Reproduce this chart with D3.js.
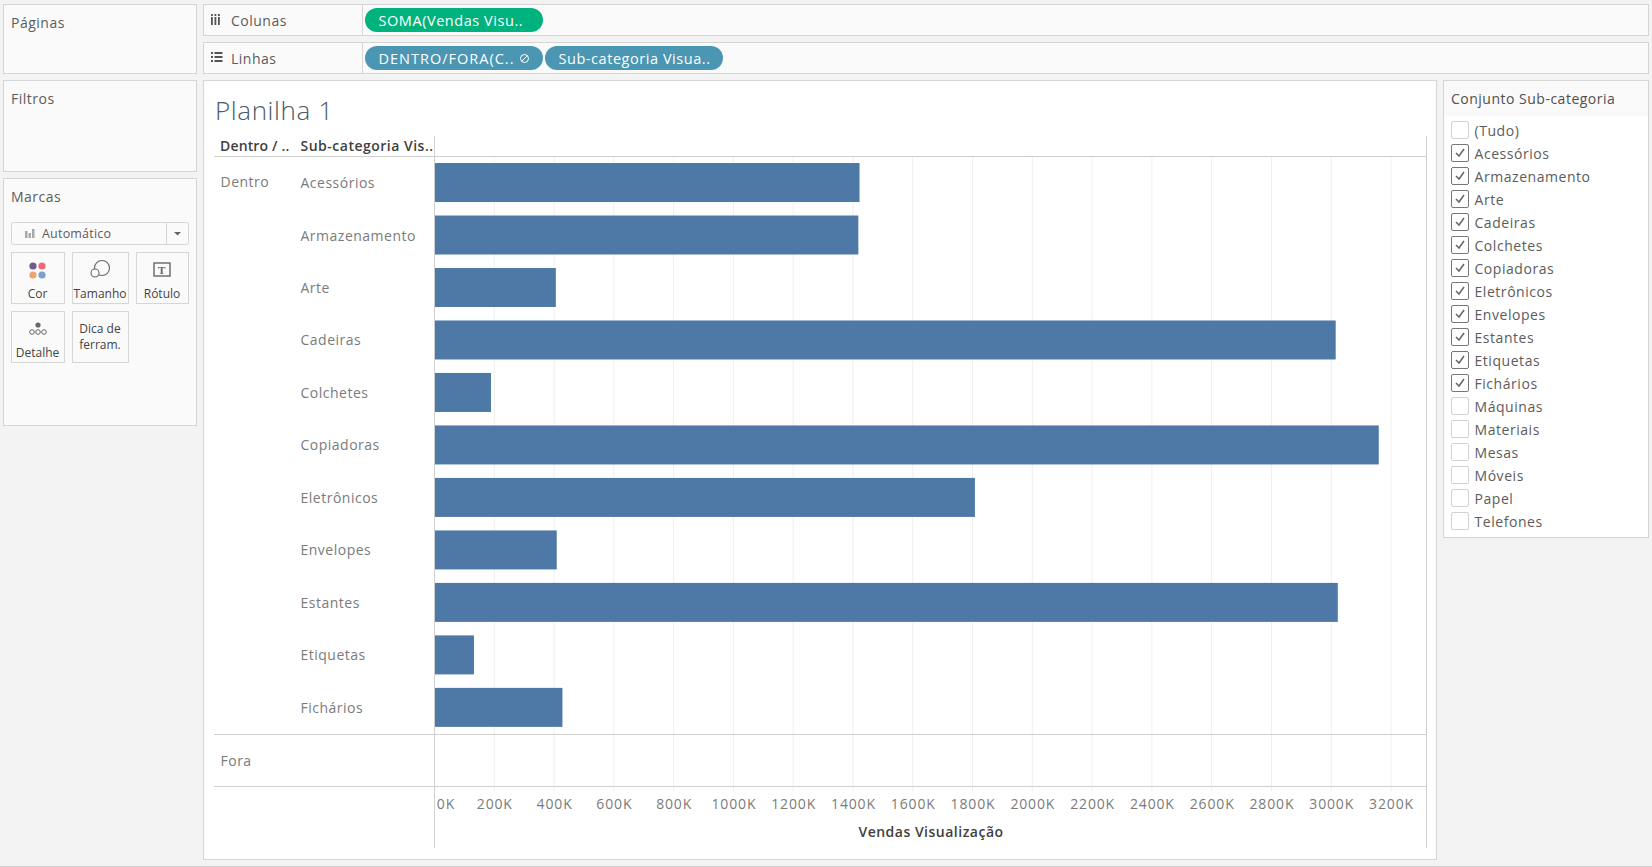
<!DOCTYPE html>
<html>
<head>
<meta charset="utf-8">
<script src="https://cdnjs.cloudflare.com/ajax/libs/d3/7.8.5/d3.min.js"></script>
<style>
html, body { margin: 0; padding: 0; background: #f3f3f3; overflow: hidden; }
svg { display: block; }
text { font-family: "Open Sans", sans-serif; letter-spacing: 0.5px; }
</style>
</head>
<body>
<script>
// chart data
var categories = ["Acessórios", "Armazenamento", "Arte", "Cadeiras", "Colchetes", "Copiadoras", "Eletrônicos", "Envelopes", "Estantes", "Etiquetas", "Fichários"];
var vendas = [1422, 1418, 406, 3015, 189, 3159, 1808, 409, 3022, 132, 428];
var xTicks = [0, 200, 400, 600, 800, 1000, 1200, 1400, 1600, 1800, 2000, 2200, 2400, 2600, 2800, 3000, 3200];
var groups = ["Dentro", "Fora"];

// filter card
var filterItems = ["(Tudo)", "Acessórios", "Armazenamento", "Arte", "Cadeiras", "Colchetes", "Copiadoras", "Eletrônicos", "Envelopes", "Estantes", "Etiquetas", "Fichários", "Máquinas", "Materiais", "Mesas", "Móveis", "Papel", "Telefones"];
var filterChecked = [0, 1, 1, 1, 1, 1, 1, 1, 1, 1, 1, 1, 0, 0, 0, 0, 0, 0];

var width = 1652, height = 867;
var textColor = "#5c5c5c", mutedColor = "#7b7b7b", lineColor = "#cfcfcf", panelLine = "#d6d6d6";

var svg = d3.select("body").append("svg")
	.attr("width", width)
	.attr("height", height);

function panel(x, y, w, h, fill) {
	return svg.append("rect")
		.attr("x", x + 0.5).attr("y", y + 0.5)
		.attr("width", w).attr("height", h)
		.attr("fill", fill || "#fafafa")
		.attr("stroke", panelLine);
}

function label(txt, x, y, size, color, weight) {
	return svg.append("text")
		.attr("x", x).attr("y", y)
		.attr("dy", "0.35em")
		.attr("font-size", size)
		.attr("font-weight", weight || 400)
		.attr("fill", color || textColor)
		.text(txt);
}

// left column
panel(3, 4, 193, 69);
label("Páginas", 11, 23, 14);
panel(3, 80, 193, 91);
label("Filtros", 11, 99, 14);
panel(3, 178, 193, 247);
label("Marcas", 11, 197, 14);

panel(11, 222, 177, 22, "#fafafa").attr("rx", 2);
svg.append("line").attr("x1", 166.5).attr("x2", 166.5).attr("y1", 222).attr("y2", 244).attr("stroke", panelLine);
svg.append("path").attr("d", "M174 232h7l-3.5 3.5z").attr("fill", "#666");
[[25, 2.5, 7], [28.5, 2.5, 5], [32, 2.5, 9]].forEach(function(b) {
	svg.append("rect").attr("x", b[0]).attr("y", 238 - b[2]).attr("width", b[1]).attr("height", b[2]).attr("fill", "#aaa");
});
label("Automático", 42, 233.5, 12.5, "#5c5c5c").style("letter-spacing", "0.2px");

var cards = [
	{ name: "Cor", x: 11, y: 252, w: 53 },
	{ name: "Tamanho", x: 72, y: 252, w: 56 },
	{ name: "Rótulo", x: 136, y: 252, w: 52 },
	{ name: "Detalhe", x: 11, y: 311, w: 53 }
];
cards.forEach(function(c) {
	panel(c.x, c.y, c.w, 51);
	label(c.name, c.x + c.w / 2, c.y + 42, 12, "#444").attr("text-anchor", "middle").style("letter-spacing", "0");
});
panel(72, 311, 56, 51);
label("Dica de", 100, 329, 12, "#444").attr("text-anchor", "middle").style("letter-spacing", "0");
label("ferram.", 100, 345, 12, "#444").attr("text-anchor", "middle").style("letter-spacing", "0");

// card icons
[["#6f5a8e", 33, 266], ["#ea6a7c", 42, 266], ["#f0a36c", 33, 275], ["#7ba0cc", 42, 275]].forEach(function(d) {
	svg.append("circle").attr("cx", d[1]).attr("cy", d[2]).attr("r", 3.6).attr("fill", d[0]);
});
svg.append("circle").attr("cx", 102).attr("cy", 268).attr("r", 7.5).attr("fill", "none").attr("stroke", "#666").attr("stroke-width", 1.1);
svg.append("circle").attr("cx", 95).attr("cy", 273).attr("r", 4).attr("fill", "#fafafa").attr("stroke", "#666").attr("stroke-width", 1.1);
svg.append("rect").attr("x", 154).attr("y", 263).attr("width", 16).attr("height", 13).attr("fill", "none").attr("stroke", "#666").attr("stroke-width", 1.4);
svg.append("text").attr("x", 162).attr("y", 274).attr("text-anchor", "middle").attr("font-size", 11).attr("font-weight", 700).attr("fill", "#666").style("font-family", "'Liberation Serif', serif").text("T");
svg.append("circle").attr("cx", 38).attr("cy", 325).attr("r", 2.6).attr("fill", "#666");
[32, 38, 44].forEach(function(cx) {
	svg.append("circle").attr("cx", cx).attr("cy", 332).attr("r", 2.3).attr("fill", "none").attr("stroke", "#666");
});

// shelves
panel(203, 4, 1445, 31);
panel(203, 42, 1445, 31);
svg.append("line").attr("x1", 362.5).attr("x2", 362.5).attr("y1", 4).attr("y2", 35).attr("stroke", panelLine);
svg.append("line").attr("x1", 362.5).attr("x2", 362.5).attr("y1", 42).attr("y2", 73).attr("stroke", panelLine);
label("Colunas", 231, 21, 14);
label("Linhas", 231, 59, 14);
[211, 214.5, 218].forEach(function(x) {
	svg.append("rect").attr("x", x).attr("y", 14).attr("width", 1.8).attr("height", 2).attr("fill", "#555");
	svg.append("rect").attr("x", x).attr("y", 17).attr("width", 1.8).attr("height", 8).attr("fill", "#555");
});
[0, 1, 2].forEach(function(i) {
	svg.append("rect").attr("x", 211).attr("y", 52 + i * 4).attr("width", 2).attr("height", 2).attr("fill", "#555");
	svg.append("rect").attr("x", 214.5).attr("y", 52 + i * 4).attr("width", 8).attr("height", 2).attr("fill", "#555");
});

function pill(txt, x, y, w, fill, spacing) {
	svg.append("rect").attr("x", x).attr("y", y).attr("width", w).attr("height", 24).attr("rx", 12).attr("fill", fill);
	label(txt, x + 13.5, y + 12.5, 14.5, "#fff").style("letter-spacing", (spacing || 0.55) + "px");
}
pill("SOMA(Vendas Visu..", 365, 8, 178, "#00b27d");
pill("DENTRO/FORA(C..", 365, 46, 178, "#4a96b3", 1);
pill("Sub-categoria Visua..", 545, 46, 178, "#4a96b3");
svg.append("circle").attr("cx", 524.5).attr("cy", 58.5).attr("r", 4).attr("fill", "none").attr("stroke", "#fff");
svg.append("line").attr("x1", 522).attr("y1", 61).attr("x2", 527).attr("y2", 56).attr("stroke", "#fff");

// worksheet
panel(203, 80, 1233, 779, "#fff");
label("Planilha 1", 215, 110.5, 26, "#4b5a68", 300).style("letter-spacing", "0.6px");
label("Dentro / ..", 220, 146, 14, "#3f3f3f", 600).style("letter-spacing", "0.15px");
label("Sub-categoria Vis..", 300.5, 146, 14, "#3f3f3f", 600);

var x = d3.scaleLinear().domain([0, 3200]).range([434.5, 1391]);
var y = d3.scaleBand().domain(categories).range([156.2, 733.7]).paddingInner(0.257).paddingOuter(0.13);

// gridlines
svg.append("g")
	.selectAll("line")
	.data(xTicks.slice(1))
	.enter()
	.append("line")
		.attr("x1", function(d) { return x(d); })
		.attr("x2", function(d) { return x(d); })
		.attr("y1", 157)
		.attr("y2", 791)
		.attr("stroke", "#efefef");

// bars
svg.selectAll(".bar")
	.data(vendas)
	.enter()
	.append("rect")
		.attr("class", "bar")
		.attr("x", x(0))
		.attr("y", function(d, i) { return y(categories[i]); })
		.attr("width", function(d) { return x(d) - x(0); })
		.attr("height", y.bandwidth())
		.attr("fill", "#4e79a7");

// row labels
svg.selectAll(".cat")
	.data(categories)
	.enter()
	.append("text")
		.attr("class", "cat")
		.attr("x", 300.5)
		.attr("y", function(d) { return y(d) + y.bandwidth() / 2 + 0.6; })
		.attr("dy", "0.35em")
		.attr("font-size", 14)
		.attr("fill", mutedColor)
		.text(function(d) { return d; });
label(groups[0], 220.5, 182, 14, mutedColor);
label(groups[1], 220.5, 761, 14, mutedColor);

// frame lines
[[214, 1426, 156.5, 156.5], [214, 1426, 734.5, 734.5], [214, 1426, 786.5, 786.5], [434.5, 434.5, 136, 848], [1426.5, 1426.5, 136, 848], [0, width, 866.5, 866.5]].forEach(function(l) {
	svg.append("line").attr("x1", l[0]).attr("x2", l[1]).attr("y1", l[2]).attr("y2", l[3]).attr("stroke", lineColor).attr("stroke-width", 1);
});

// x axis
var xAxis = d3.axisBottom(x)
	.tickValues(xTicks)
	.tickSize(0)
	.tickPadding(0)
	.tickFormat(function(d) { return d + "K"; });

var axisG = svg.append("g")
	.attr("transform", "translate(0,799)")
	.call(xAxis);
axisG.select(".domain").remove();
axisG.selectAll("text")
	.attr("font-size", 14)
	.attr("fill", mutedColor)
	.style("font-family", "'Open Sans', sans-serif")
	.style("letter-spacing", "0.85px");
// first label sits inside the axis line
axisG.selectAll("text").filter(function(d) { return d === 0; }).attr("x", 11);

label("Vendas Visualização", 931, 832, 14, "#3f3f3f", 600).attr("text-anchor", "middle");

// filter card
panel(1443, 80, 205, 457, "#fff");
svg.append("rect").attr("x", 1444).attr("y", 81).attr("width", 204).attr("height", 35).attr("fill", "#f9f9f9");
label("Conjunto Sub-categoria", 1451, 99, 14, "#505050");

var fy = d3.scaleBand().domain(filterItems).range([119.5, 533.5]);

var rows = svg.selectAll(".item")
	.data(filterItems)
	.enter()
	.append("g")
		.attr("class", "item")
		.attr("transform", function(d) { return "translate(1451," + (fy(d) + fy.bandwidth() / 2) + ")"; });

rows.append("rect")
	.attr("x", 0.5).attr("y", -9.5)
	.attr("width", 17).attr("height", 17).attr("rx", 1.5)
	.attr("fill", "#fff")
	.attr("stroke", function(d, i) { return filterChecked[i] ? "#777" : "#d2d2d2"; });

rows.filter(function(d, i) { return filterChecked[i]; })
	.append("path")
		.attr("d", "M5 -1l3 3l5-7")
		.attr("fill", "none")
		.attr("stroke", "#666")
		.attr("stroke-width", 1.5);

rows.append("text")
	.attr("x", 23.5)
	.attr("dy", "0.35em")
	.attr("font-size", 14)
	.attr("fill", "#5c5c5c")
	.style("letter-spacing", "0.55px")
	.text(function(d) { return d; });
</script>
</body>
</html>
